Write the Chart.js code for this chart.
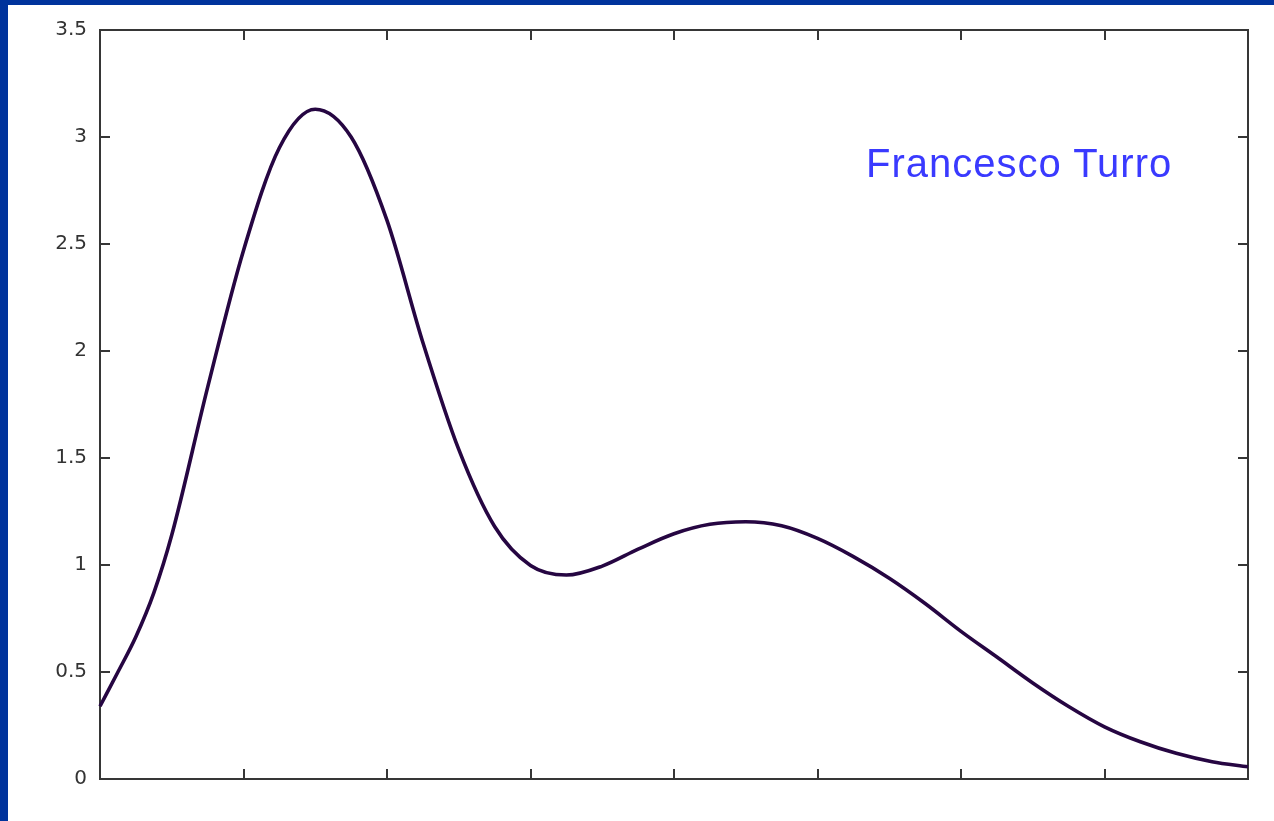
<!DOCTYPE html>
<html>
<head>
<meta charset="utf-8">
<script src="https://cdn.jsdelivr.net/npm/chart.js@4/dist/chart.umd.min.js"></script>
<style>
  html, body { margin: 0; padding: 0; }
  body { width: 1274px; height: 821px; background: #00339c; position: relative; overflow: hidden; }
  #wrap { position: absolute; left: 8px; top: 5px; width: 1266px; height: 816px; background: #ffffff; }
  #c { display: block; }
  #author { position: absolute; left: 866px; top: 143px; font-family: "Liberation Sans", Arial, sans-serif;
            font-size: 40px; line-height: 40px; letter-spacing: 1px; color: #3a3aff; white-space: nowrap; }
</style>
</head>
<body>
<div id="wrap"><canvas id="c" width="1266" height="816"></canvas></div>
<div id="author">Francesco Turro</div>
<script>
// ---- data ----
const xValues = [0, 0.125, 0.25, 0.375, 0.5, 0.75, 1.0, 1.25, 1.5, 1.75, 2.0, 2.25, 2.5, 2.75, 3.0, 3.25, 3.5, 3.75, 4.0,
                 4.25, 4.5, 4.75, 5.0, 5.25, 5.5, 5.75, 6.0, 6.25, 6.5, 6.75, 7.0, 7.25, 7.5, 7.75, 8.0];
const yValues = [0.34, 0.50, 0.665, 0.87, 1.14, 1.83, 2.47, 2.95, 3.13, 3.0, 2.61, 2.04, 1.54, 1.18, 0.998, 0.953, 0.995, 1.074, 1.146,
                 1.19, 1.202, 1.183, 1.124, 1.039, 0.938, 0.82, 0.69, 0.57, 0.449, 0.339, 0.244, 0.174, 0.12, 0.081, 0.057];
const xTickValues = [1, 2, 3, 4, 5, 6, 7];
const yTickValues = [0.5, 1, 1.5, 2, 2.5, 3];
const yTickLabels = ['0', '0.5', '1', '1.5', '2', '2.5', '3', '3.5'];
const yMin = 0, yMax = 3.5, yStep = 0.5;
const xMin = 0, xMax = 8;

const points = xValues.map((x, i) => ({ x: x, y: yValues[i] }));

const framePlugin = {
  id: 'frame',
  beforeDatasetsDraw(chart) {
    const { ctx, chartArea: a, scales } = chart;
    ctx.save();
    ctx.strokeStyle = '#363636';
    ctx.lineWidth = 2;
    ctx.strokeRect(a.left, a.top, a.right - a.left, a.bottom - a.top);
    const len = 10;
    ctx.beginPath();
    xTickValues.forEach(v => {
      const px = Math.round(scales.x.getPixelForValue(v));
      ctx.moveTo(px, a.bottom); ctx.lineTo(px, a.bottom - len);
      ctx.moveTo(px, a.top); ctx.lineTo(px, a.top + len);
    });
    yTickValues.forEach(v => {
      const py = Math.round(scales.y.getPixelForValue(v));
      ctx.moveTo(a.left, py); ctx.lineTo(a.left + len, py);
      ctx.moveTo(a.right, py); ctx.lineTo(a.right - len, py);
    });
    ctx.stroke();
    ctx.restore();
  }
};

new Chart(document.getElementById('c'), {
  type: 'line',
  data: {
    datasets: [{
      data: points,
      borderColor: '#260642',
      borderWidth: 3.6,
      pointRadius: 0,
      fill: false,
      cubicInterpolationMode: 'monotone',
      clip: 6
    }]
  },
  options: {
    responsive: false,
    animation: false,
    events: [],
    layout: { padding: { top: 25, right: 26, bottom: 42, left: 0 } },
    plugins: { legend: { display: false }, tooltip: { enabled: false }, title: { display: false } },
    scales: {
      x: { type: 'linear', min: xMin, max: xMax, display: false },
      y: {
        type: 'linear', min: yMin, max: yMax,
        grid: { display: false, drawTicks: false },
        border: { display: false },
        ticks: { stepSize: yStep, padding: 13, color: '#333333',
                 font: { family: '"DejaVu Sans", sans-serif', size: 20 },
                 callback: (v, i) => yTickLabels[i] },
        afterFit(scale) { scale.width = 92; }
      }
    }
  },
  plugins: [framePlugin]
});
</script>
</body>
</html>
